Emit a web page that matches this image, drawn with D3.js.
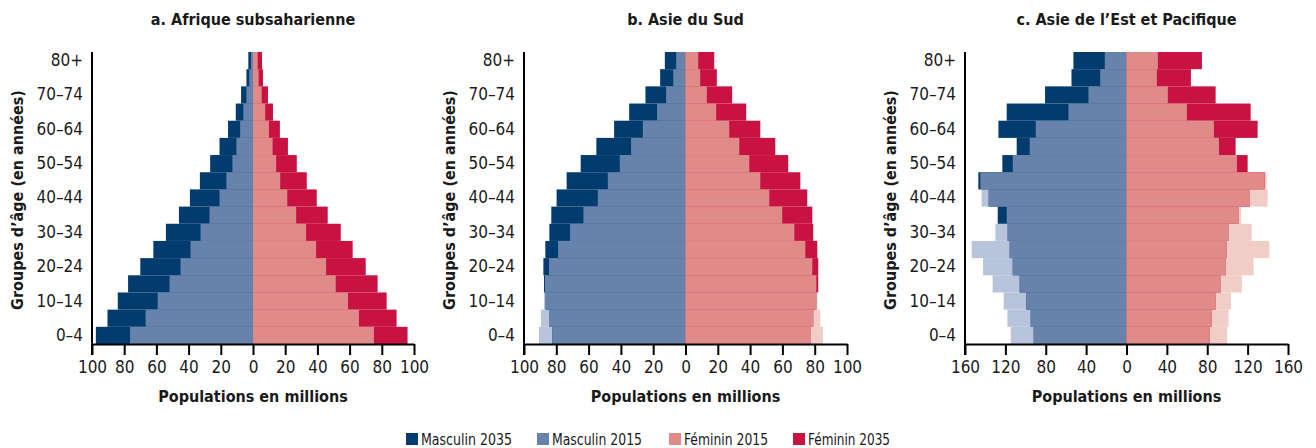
<!DOCTYPE html>
<html>
<head>
<meta charset="utf-8">
<script src="https://cdn.jsdelivr.net/npm/d3@7"></script>
<style>
  body { margin: 0; background: #fff; }
  text { font-family: "Liberation Sans Narrow", "DejaVu Sans Condensed", sans-serif; fill: #1a1a1a; }
</style>
</head>
<body>
<div id="chart"></div>
<script>
// groupes d'âge, du bas vers le haut
const ages = ["0–4", "5–9", "10–14", "15–19", "20–24", "25–29", "30–34", "35–39", "40–44",
  "45–49", "50–54", "55–59", "60–64", "65–69", "70–74", "75–79", "80+"];
const ageTicks = ["0–4", "10–14", "20–24", "30–34", "40–44", "50–54", "60–64", "70–74", "80+"];

const titres = ["a.  Afrique subsaharienne", "b. Asie du Sud", "c.  Asie de l’Est et Pacifique"];
const legende = ["Masculin 2035", "Masculin 2015", "Féminin 2015", "Féminin 2035"];

// Afrique subsaharienne (millions)
const afrHommes2015 = [76.4, 66.7, 59.2, 51.8, 45.0, 38.8, 32.6, 27.0, 20.8, 16.5, 12.8, 10.3, 8.0, 6.0, 4.1, 2.3, 1.3];
const afrHommes2035 = [97.6, 90.4, 84.0, 77.6, 70.0, 61.9, 54.1, 46.0, 39.2, 33.0, 26.6, 20.8, 15.5, 10.7, 7.4, 4.1, 2.9];
const afrFemmes2015 = [75.1, 65.8, 59.0, 51.4, 45.4, 39.2, 33.0, 26.8, 21.3, 16.9, 14.4, 12.2, 9.9, 7.6, 5.4, 3.5, 2.9];
const afrFemmes2035 = [96.0, 89.2, 83.0, 77.4, 70.0, 61.9, 54.5, 46.4, 39.6, 33.4, 27.2, 21.7, 16.7, 12.4, 9.3, 6.2, 5.6];

// Asie du Sud
const sudHommes2015 = [90.7, 89.5, 87.6, 87.0, 84.5, 78.9, 71.5, 63.2, 54.3, 48.1, 40.7, 33.7, 26.4, 17.6, 12.0, 7.6, 5.8];
const sudHommes2035 = [82.6, 84.5, 86.6, 87.6, 88.0, 86.8, 84.3, 83.1, 79.8, 73.6, 64.9, 55.2, 44.2, 34.9, 24.8, 15.7, 12.8];
const sudFemmes2015 = [85.1, 83.5, 81.6, 81.0, 78.5, 74.2, 67.4, 59.9, 51.9, 46.3, 39.5, 33.3, 27.1, 19.0, 13.2, 9.1, 7.9];
const sudFemmes2035 = [77.3, 79.1, 81.0, 82.2, 82.2, 81.6, 79.1, 78.5, 75.4, 71.1, 63.6, 55.6, 46.3, 37.6, 28.9, 19.4, 17.8];

// Asie de l'Est et Pacifique
const estHommes2015 = [114.7, 118.0, 121.7, 132.6, 142.1, 153.4, 129.9, 118.7, 143.5, 144.8, 112.7, 95.9, 89.9, 57.5, 37.7, 26.1, 21.5];
const estHommes2035 = [91.9, 94.9, 99.2, 105.8, 112.7, 115.7, 117.7, 127.6, 136.5, 146.8, 123.0, 108.8, 126.9, 118.7, 80.7, 54.5, 52.6];
const estFemmes2015 = [99.8, 101.2, 103.5, 114.4, 126.0, 141.5, 124.0, 113.4, 139.8, 138.8, 109.4, 91.6, 86.6, 59.8, 41.0, 30.1, 31.1];
const estFemmes2035 = [82.6, 84.6, 88.6, 93.6, 98.5, 99.5, 101.5, 111.4, 122.3, 136.9, 120.0, 108.1, 129.9, 123.0, 88.3, 63.8, 74.7];

const ticksAB = [-100, -80, -60, -40, -20, 0, 20, 40, 60, 80, 100];
const ticksC = [-160, -120, -80, -40, 0, 40, 80, 120, 160];

const couleurs = {
  h35: "#023c6f", h15: "#6783ac", h15pale: "#b8c4db",
  f15: "#e08a89", f35: "#c81242", f15pale: "#f1cdc8"
};

const width = 1316;
const height = 448;
const haut = 52;
const bas = 344;

const svg = d3.select("#chart")
  .append("svg")
  .attr("width", width)
  .attr("height", height);

const panneaux = [
  { titre: titres[0], left: 92, right: 414, max: 100, ticks: ticksAB,
    h15: afrHommes2015, h35: afrHommes2035, f15: afrFemmes2015, f35: afrFemmes2035 },
  { titre: titres[1], left: 524, right: 847, max: 100, ticks: ticksAB,
    h15: sudHommes2015, h35: sudHommes2035, f15: sudFemmes2015, f35: sudFemmes2035 },
  { titre: titres[2], left: 965, right: 1288, max: 160, ticks: ticksC,
    h15: estHommes2015, h35: estHommes2035, f15: estFemmes2015, f35: estFemmes2035 }
];

const y = d3.scaleBand()
  .domain(ages)
  .range([bas, haut])
  .paddingInner(0);

panneaux.forEach(p => {
  const g = svg.append("g");

  const x = d3.scaleLinear()
    .domain([-p.max, p.max])
    .range([p.left, p.right]);

  const rows = ages.map((a, i) => ({
    age: a, h15: p.h15[i], h35: p.h35[i], f15: p.f15[i], f35: p.f35[i]
  }));

  // barres : 2015 pâle (excédent), 2035 foncé, chevauchement au milieu
  const couches = [
    { v: d => -d.h15, c: couleurs.h15pale },
    { v: d => -d.h35, c: couleurs.h35 },
    { v: d => -Math.min(d.h15, d.h35), c: couleurs.h15 },
    { v: d => d.f15, c: couleurs.f15pale },
    { v: d => d.f35, c: couleurs.f35 },
    { v: d => Math.min(d.f15, d.f35), c: couleurs.f15 }
  ];

  couches.forEach(k => {
    g.selectAll(null)
      .data(rows)
      .enter()
      .append("rect")
      .attr("x", d => Math.min(x(0), x(k.v(d))))
      .attr("y", d => y(d.age))
      .attr("width", d => Math.abs(x(k.v(d)) - x(0)))
      .attr("height", y.bandwidth())
      .attr("fill", k.c);
  });

  // axe horizontal
  const axeX = g.append("g")
    .attr("transform", `translate(0,${bas})`)
    .call(d3.axisBottom(x)
      .tickValues(p.ticks)
      .tickSize(11)
      .tickSizeOuter(0)
      .tickPadding(6)
      .tickFormat(d => Math.abs(d)));
  axeX.select(".domain").attr("stroke", "#000").attr("stroke-width", 2);
  axeX.selectAll(".tick line").attr("stroke", "#000").attr("stroke-width", 2);
  axeX.selectAll("text")
    .style("font-size", "17px")
    .attr("fill", "#1a1a1a");

  // axe vertical
  const axeY = g.append("g")
    .attr("transform", `translate(${p.left},0)`)
    .call(d3.axisLeft(y)
      .tickValues(ageTicks)
      .tickSize(0)
      .tickPadding(9));
  axeY.select(".domain").remove();
  axeY.selectAll("text")
    .style("font-size", "17px")
    .attr("fill", "#1a1a1a");

  g.append("line")
    .attr("x1", p.left)
    .attr("x2", p.left)
    .attr("y1", haut)
    .attr("y2", bas + 11)
    .attr("stroke", "#000")
    .attr("stroke-width", 2);

  g.append("text")
    .attr("x", x(0))
    .attr("y", 25)
    .attr("text-anchor", "middle")
    .style("font-size", "16px")
    .style("font-weight", "bold")
    .text(p.titre);

  g.append("text")
    .attr("x", x(0))
    .attr("y", 402)
    .attr("text-anchor", "middle")
    .style("font-size", "16px")
    .style("font-weight", "bold")
    .text("Populations en millions");

  g.append("text")
    .attr("transform", `translate(${p.left - 69},${(haut + bas) / 2 + 2}) rotate(-90)`)
    .attr("text-anchor", "middle")
    .style("font-size", "16px")
    .style("font-weight", "bold")
    .text("Groupes d’âge (en années)");
});

// légende
const legendeX = [406, 537, 669, 793];
const legendeW = [91, 90, 84, 82];
const legendeC = [couleurs.h35, couleurs.h15, couleurs.f15, couleurs.f35];
legende.forEach((t, i) => {
  svg.append("rect")
    .attr("x", legendeX[i])
    .attr("y", 433)
    .attr("width", 12)
    .attr("height", 12)
    .attr("fill", legendeC[i]);
  svg.append("text")
    .attr("x", legendeX[i] + 15)
    .attr("y", 445)
    .attr("textLength", legendeW[i])
    .attr("lengthAdjust", "spacingAndGlyphs")
    .style("font-size", "16px")
    .text(t);
});
</script>
</body>
</html>
